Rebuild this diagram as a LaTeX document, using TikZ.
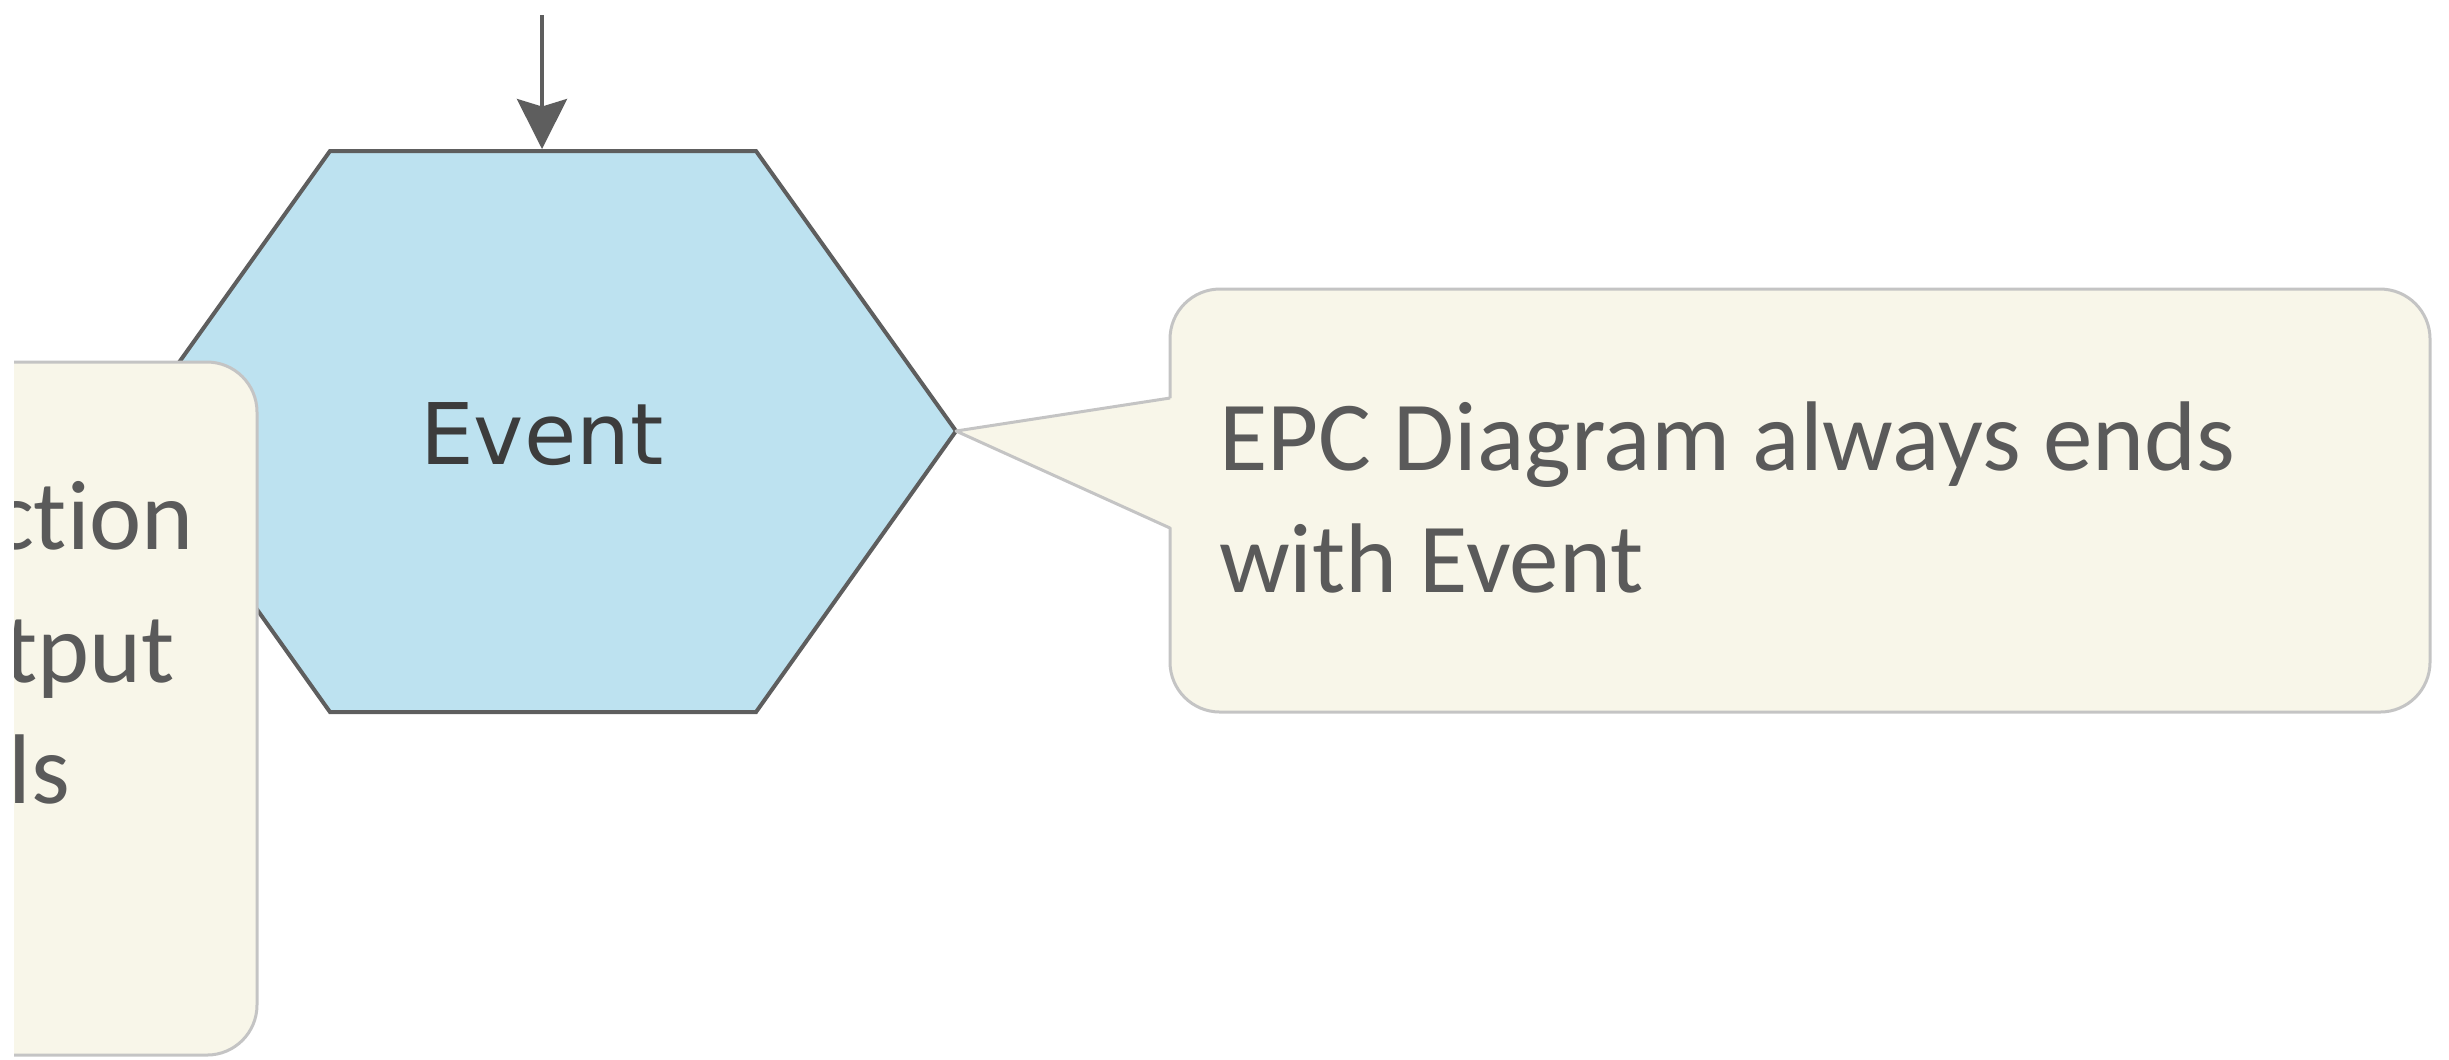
\documentclass[tikz,border=0pt]{standalone}
\usepackage{fontspec}
\setmainfont[Ligatures=NoCommon]{Carlito}
\newfontfamily\eventfont{DejaVu Sans}
\usetikzlibrary{arrows.meta}

\definecolor{eventfill}{HTML}{BDE2F0}
\definecolor{eventline}{HTML}{5E5E5E}
\definecolor{eventtext}{HTML}{3C3C3C}
\definecolor{notefill}{HTML}{F8F6E9}
\definecolor{noteline}{HTML}{C4C4C4}
\definecolor{notetext}{HTML}{5A5A5A}

\begin{document}
\begin{tikzpicture}[
	x=0.2pt, y=-0.2pt,
  > = {Stealth[length=10pt,width=10pt,inset=1.5pt]},
  hexshape/.style = {draw=eventline,fill=eventfill,line width=0.8pt,line join=miter},
  flow/.style = {->,draw=eventline,line width=0.8pt},
  notebox/.style = {draw=noteline,fill=notefill,line width=0.6pt,rounded corners=10pt,inner sep=0pt},
  notetxt/.style = {text=notetext,inner sep=0pt,font=\fontsize{19.8}{24.4}\selectfont}
  ]
	\useasboundingbox (0,0) rectangle (2449,1059);

	% event hexagon
	\coordinate (ha) at (330,151);
	\coordinate (hb) at (756,151);
	\coordinate (hc) at (956,431);
	\coordinate (hd) at (756,712);
	\coordinate (he) at (330,712);
	\coordinate (hf) at (130,431);
	\draw[hexshape] (ha) -- (hb) -- (hc) -- (hd) -- (he) -- (hf) -- cycle;
	\node[inner sep=0pt,text=eventtext,font=\eventfont\fontsize{17}{20}\selectfont,anchor=base] (event) at (542,464) {Event};

	% incoming flow
	\coordinate (src) at (542,15);
	\coordinate (dst) at (542,149);
	\draw[flow] (src) -- (dst);

	% callout on the right
	\node[notebox,minimum width=252pt,minimum height=84.6pt] (endnote) at (1800,500.5) {};
	\coordinate (ptop) at (1170,398);
	\coordinate (pbot) at (1170,528);
	\fill[notefill] (hc) -- ([xshift=0.6pt]ptop) -- ([xshift=0.6pt]pbot) -- cycle;
	\draw[noteline,line width=0.6pt,line join=round] (ptop) -- (hc) -- (pbot);
	\node[notetxt,anchor=base west] (endtxt1) at (1218,470) {EPC Diagram always ends};
	\node[notetxt,anchor=base west] (endtxt2) at (1218,592) {with Event};

	% cut-off note on the left
	\begin{scope}
		\clip (14,0) rectangle (2449,1059);
		\node[notebox,minimum width=71.4pt,minimum height=138.6pt] (funcnote) at (78.5,708.5) {};
		\node[notetxt,anchor=base east] (functxt1) at (195,549) {ction};
		\node[notetxt,anchor=base east] (functxt2) at (176,682) {tput};
		\node[notetxt,anchor=base east] (functxt3) at (71,803) {ls};
	\end{scope}

\end{tikzpicture}
\end{document}
